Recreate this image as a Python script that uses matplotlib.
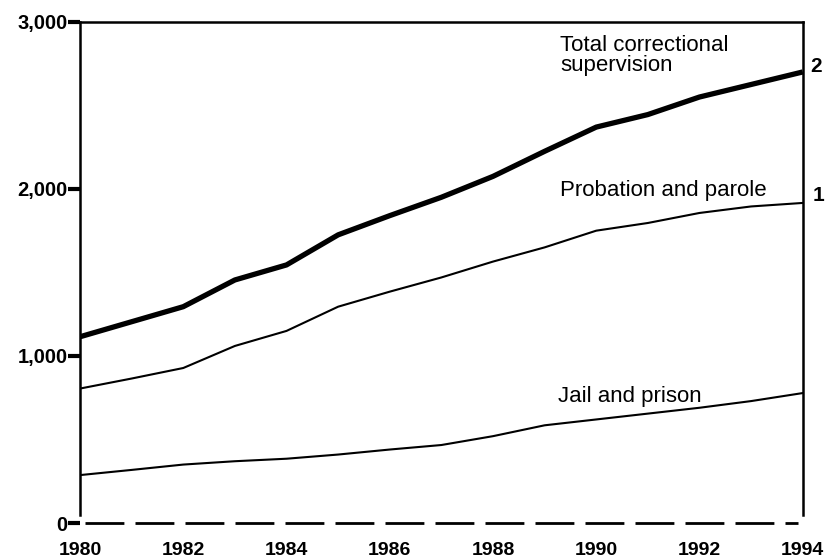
import matplotlib.pyplot as plt

#### Data ####
years = list(range(1980, 1995))
total = [1115, 1205, 1295, 1455, 1545, 1725, 1840, 1950, 2075, 2225, 2370, 2445, 2550, 2625, 2700]
probation = [805, 865, 928, 1060, 1150, 1295, 1385, 1470, 1565, 1650, 1750, 1796, 1856, 1895, 1916]
jail = [287, 318, 350, 370, 385, 410, 440, 467, 520, 585, 620, 655, 690, 730, 778]

xticks = [1980, 1982, 1984, 1986, 1988, 1990, 1992, 1994]
yticks = [0, 1000, 2000, 3000]
ylabels = ["0", "1,000", "2,000", "3,000"]

plt.rcParams['font.family'] = ['Liberation Sans', 'DejaVu Sans']

#### Plot ####
fig = plt.figure(figsize=(8.25, 5.6), dpi=100)
ax = fig.add_axes([0.097, 0.066, 0.876, 0.895])

ax.plot(years, total, color='black', lw=3.8, solid_capstyle='butt')
ax.plot(years, probation, color='black', lw=1.5)
ax.plot(years, jail, color='black', lw=1.5)

# dashed zero line instead of a bottom spine
ax.plot([1980.1, 1993.9], [0, 0], color='black', lw=2, dashes=(14, 4), clip_on=False)

ax.set_xlim(1980, 1994)
ax.set_ylim(0, 3000)

ax.spines['bottom'].set_visible(False)
ax.spines['left'].set_bounds(50, 3000)
ax.spines['right'].set_bounds(50, 3000)
for s in ['left', 'right', 'top']:
    ax.spines[s].set_linewidth(1.8)

ax.set_yticks(yticks)
ax.set_yticklabels(ylabels, fontsize=14.5, fontweight='bold')
ax.tick_params(axis='y', length=9, width=3, pad=0)

ax.set_xticks(xticks)
ax.set_xticklabels([str(x) for x in xticks], fontsize=14, fontweight='bold')
ax.tick_params(axis='x', length=0, pad=14)

# series labels
ax.text(1989.3, 2800, "Total correctional\nsupervision", fontsize=16, va='center', linespacing=0.95)
ax.text(1989.3, 1990, "Probation and parole", fontsize=16, va='center')
ax.text(1989.25, 760, "Jail and prison", fontsize=16, va='center')

# cut-off labels at the right margin
ax.text(1994.15, 2730, "2", fontsize=15, fontweight='bold', va='center', clip_on=False)
ax.text(1994.2, 1960, "1", fontsize=15, fontweight='bold', va='center', clip_on=False)

fig.savefig("out.png", dpi=100, facecolor='white')
plt.close()
